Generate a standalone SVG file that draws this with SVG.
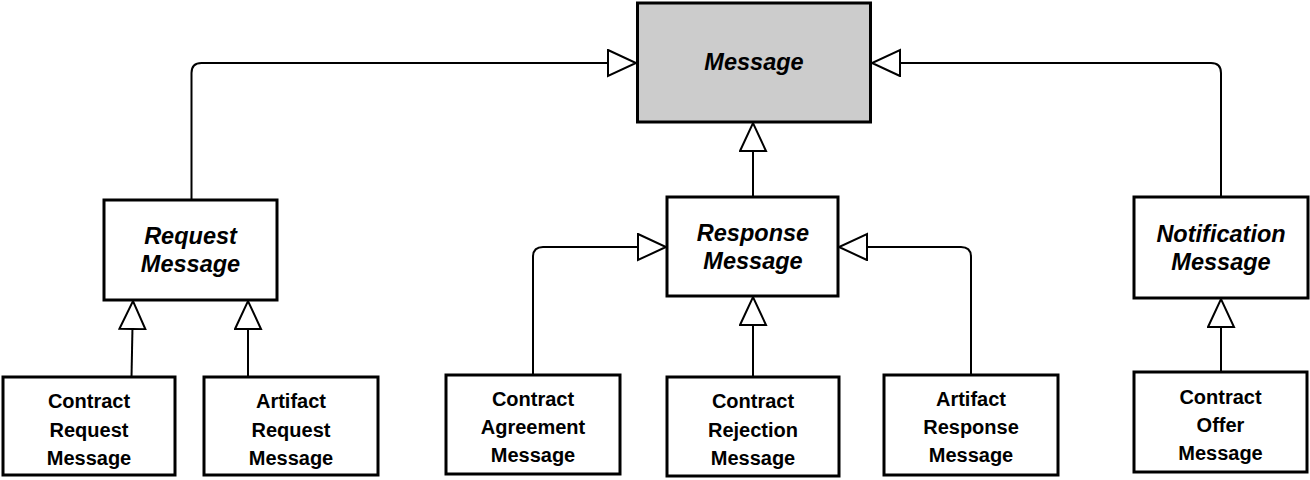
<svg xmlns="http://www.w3.org/2000/svg" width="1310" height="480" viewBox="0 0 1310 480">
<style>
.box{fill:#fff;stroke:#000;stroke-width:3}
.root{fill:#ccc;stroke:#000;stroke-width:3}
.edge{fill:none;stroke:#000;stroke-width:2;marker-end:url(#tri)}
.t{font-family:"Liberation Sans",Arial,sans-serif;font-weight:bold;text-anchor:middle;fill:#000}
.abs{font-size:23.5px;font-style:italic}
.leaf{font-size:20px}
</style>
<defs>
<marker id="tri" markerUnits="userSpaceOnUse" markerWidth="32" markerHeight="30" refX="29" refY="14" orient="auto" viewBox="0 0 32 30">
<path d="M1,1 L29,14 L1,27 Z" fill="#fff" stroke="#000" stroke-width="2"/>
</marker>
</defs>
<rect width="1310" height="480" fill="#fff"/>
<g id="connectors">
<path class="edge" d="M191.5,200 V73 Q191.5,63 201.5,63 H636"/>
<path class="edge" d="M1221,197 V73 Q1221,63 1211,63 H872"/>
<path class="edge" d="M753,197 V123"/>
<path class="edge" d="M533,375 V257 Q533,247 543,247 H666"/>
<path class="edge" d="M971,375 V257 Q971,247 961,247 H839"/>
<path class="edge" d="M753,377 V297"/>
<path class="edge" d="M131.5,377 L133,301"/>
<path class="edge" d="M248,377 V301"/>
<path class="edge" d="M1221,372 V299"/>
</g>
<g id="message">
<rect class="root" x="637.5" y="3" width="233" height="119"/>
<text class="t abs" x="754" y="70">Message</text>
</g>
<g id="request-message">
<rect class="box" x="104" y="200" width="173" height="100"/>
<text class="t abs" x="190.5" y="243.5">Request</text>
<text class="t abs" x="190.5" y="271.5">Message</text>
</g>
<g id="response-message">
<rect class="box" x="667" y="197" width="171" height="99"/>
<text class="t abs" x="753" y="241">Response</text>
<text class="t abs" x="753" y="269">Message</text>
</g>
<g id="notification-message">
<rect class="box" x="1134" y="197" width="174" height="101"/>
<text class="t abs" x="1221" y="242">Notification</text>
<text class="t abs" x="1221" y="270">Message</text>
</g>
<g id="contract-request-message">
<rect class="box" x="3" y="377" width="172" height="98"/>
<text class="t leaf" x="89" y="408">Contract</text>
<text class="t leaf" x="89" y="436.5">Request</text>
<text class="t leaf" x="89" y="465">Message</text>
</g>
<g id="artifact-request-message">
<rect class="box" x="204" y="377" width="174" height="98"/>
<text class="t leaf" x="291" y="408">Artifact</text>
<text class="t leaf" x="291" y="436.5">Request</text>
<text class="t leaf" x="291" y="465">Message</text>
</g>
<g id="contract-agreement-message">
<rect class="box" x="446" y="375" width="174" height="99"/>
<text class="t leaf" x="533" y="405.5">Contract</text>
<text class="t leaf" x="533" y="433.5">Agreement</text>
<text class="t leaf" x="533" y="462">Message</text>
</g>
<g id="contract-rejection-message">
<rect class="box" x="667" y="377" width="172" height="99"/>
<text class="t leaf" x="753" y="408">Contract</text>
<text class="t leaf" x="753" y="436.5">Rejection</text>
<text class="t leaf" x="753" y="465">Message</text>
</g>
<g id="artifact-response-message">
<rect class="box" x="884" y="375" width="174" height="100"/>
<text class="t leaf" x="971" y="405.5">Artifact</text>
<text class="t leaf" x="971" y="433.5">Response</text>
<text class="t leaf" x="971" y="462">Message</text>
</g>
<g id="contract-offer-message">
<rect class="box" x="1134" y="372" width="173" height="100"/>
<text class="t leaf" x="1220.5" y="403.5">Contract</text>
<text class="t leaf" x="1220.5" y="431.5">Offer</text>
<text class="t leaf" x="1220.5" y="460">Message</text>
</g>
</svg>
